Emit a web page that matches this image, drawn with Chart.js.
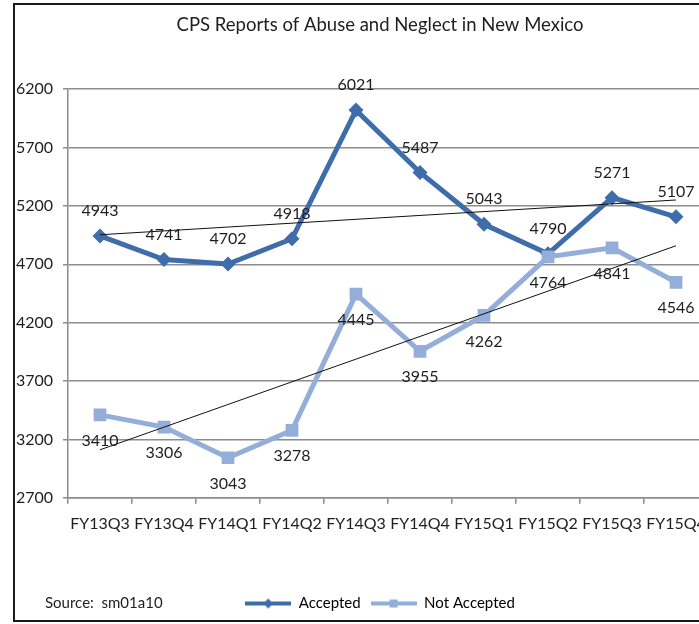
<!DOCTYPE html>
<html>
<head>
<meta charset="utf-8">
<title>CPS Reports of Abuse and Neglect in New Mexico</title>
<script src="https://cdn.jsdelivr.net/npm/chart.js@4.4.1/dist/chart.umd.min.js"></script>
<style>
  html, body { margin: 0; padding: 0; background: #fff; overflow: hidden; }
  #frame { position: absolute; left: 13px; top: 3px; width: 780px; height: 619px; border: 2px solid #1a1a1a; border-right: none; box-sizing: border-box; }
  #wrap { position: absolute; left: 16px; top: 5px; width: 728px; height: 616px; }
</style>
</head>
<body>
<div id="frame"></div>
<div id="wrap"><canvas id="chart-cps"></canvas></div>
<script>
const quarters = ["FY13Q3", "FY13Q4", "FY14Q1", "FY14Q2", "FY14Q3", "FY14Q4", "FY15Q1", "FY15Q2", "FY15Q3", "FY15Q4"];
const accepted = [4943, 4741, 4702, 4918, 6021, 5487, 5043, 4790, 5271, 5107];
const notAccepted = [3410, 3306, 3043, 3278, 4445, 3955, 4262, 4764, 4841, 4546];
// trend line end points
const acceptedTrend = [4953, null, null, null, null, null, null, null, null, 5251];
const notAcceptedTrend = [3111, null, null, null, null, null, null, null, null, 4859];
const yRange = { min: 2700, max: 6200, step: 500 };
const sourceNote = "Source:  sm01a10";

const DARK = "#3f6dab";
const LIGHT = "#93aed8";
const GRID = "#8c8c8c";
const INK = "#1e1e1e";
const FONT = "Lato";

function legendSample(color, shape) {
  const c = document.createElement("canvas");
  c.width = 46;
  c.height = 12;
  const ctx = c.getContext("2d");
  ctx.strokeStyle = color;
  ctx.lineWidth = 4;
  ctx.beginPath();
  ctx.moveTo(0, 6);
  ctx.lineTo(46, 6);
  ctx.stroke();
  ctx.fillStyle = color;
  if (shape === "diamond") {
    ctx.beginPath();
    ctx.moveTo(23, 1);
    ctx.lineTo(28, 6);
    ctx.lineTo(23, 11);
    ctx.lineTo(18, 6);
    ctx.closePath();
    ctx.fill();
  } else {
    ctx.fillRect(19, 2, 8, 8);
  }
  return c;
}

const valueLabels = {
  id: "valueLabels",
  afterDatasetsDraw(chart) {
    const { ctx } = chart;
    ctx.save();
    ctx.font = `16px ${FONT}`;
    ctx.fillStyle = INK;
    ctx.textAlign = "center";
    ctx.textBaseline = "middle";
    chart.data.datasets.forEach((ds, i) => {
      if (!ds.labelOffset) return;
      chart.getDatasetMeta(i).data.forEach((pt, j) => {
        if (ds.data[j] == null) return;
        ctx.fillText(String(ds.data[j]), pt.x, pt.y + ds.labelOffset);
      });
    });
    ctx.restore();
  }
};

const sourceText = {
  id: "sourceText",
  afterDraw(chart) {
    const lg = chart.legend;
    const box = lg.legendHitBoxes && lg.legendHitBoxes[0];
    const y = box ? box.top + box.height / 2 : lg.top + lg.height / 2;
    const { ctx } = chart;
    ctx.save();
    ctx.font = `15px ${FONT}`;
    ctx.fillStyle = INK;
    ctx.textAlign = "left";
    ctx.textBaseline = "middle";
    ctx.fillText(sourceNote, 29, y);
    ctx.restore();
  }
};

const tickFont = { family: FONT, size: 16 };

new Chart(document.getElementById("chart-cps"), {
  type: "line",
  data: {
    labels: quarters,
    datasets: [
      { label: "Accepted trend", data: acceptedTrend, borderColor: "#111", borderWidth: 1, pointRadius: 0, spanGaps: true, order: 0 },
      { label: "Not Accepted trend", data: notAcceptedTrend, borderColor: "#111", borderWidth: 1, pointRadius: 0, spanGaps: true, order: 1 },
      { label: "Not Accepted", data: notAccepted, borderColor: LIGHT, backgroundColor: LIGHT, borderWidth: 5, pointStyle: "rect", pointRadius: 9, pointBorderWidth: 0, tension: 0, labelOffset: 26, order: 2 },
      { label: "Accepted", data: accepted, borderColor: DARK, backgroundColor: DARK, borderWidth: 5, pointStyle: "rectRot", pointRadius: 7.5, pointBorderWidth: 0, tension: 0, labelOffset: -25, order: 3 }
    ]
  },
  options: {
    responsive: true,
    maintainAspectRatio: false,
    animation: false,
    layout: { padding: 0 },
    plugins: {
      title: {
        display: true,
        text: "CPS Reports of Abuse and Neglect in New Mexico",
        color: INK,
        font: { family: FONT, size: 18.5, weight: "normal" },
        padding: { top: 9, bottom: 53 }
      },
      legend: {
        position: "bottom",
        labels: {
          usePointStyle: true,
          pointStyleWidth: 46,
          padding: 10,
          color: INK,
          font: { family: FONT, size: 15 },
          generateLabels() {
            return [
              { text: "Accepted", pointStyle: legendSample(DARK, "diamond"), fillStyle: DARK, strokeStyle: DARK, lineWidth: 0, hidden: false, datasetIndex: 3 },
              { text: "Not Accepted", pointStyle: legendSample(LIGHT, "square"), fillStyle: LIGHT, strokeStyle: LIGHT, lineWidth: 0, hidden: false, datasetIndex: 2 }
            ];
          }
        }
      },
      tooltip: { enabled: false }
    },
    scales: {
      x: {
        offset: true,
        afterFit(scale) { scale.height += 43; },
        grid: { offset: true, drawOnChartArea: false, tickLength: 6, color: GRID, lineWidth: 1.5 },
        border: { color: GRID, width: 1.5 },
        ticks: { color: INK, font: tickFont, padding: 10, maxRotation: 0, autoSkip: false }
      },
      y: {
        min: yRange.min,
        max: yRange.max,
        afterFit(scale) { scale.width = 52; },
        grid: { color: GRID, lineWidth: 1.5, tickLength: 5 },
        border: { color: GRID, width: 1.5 },
        ticks: { stepSize: yRange.step, padding: 10, color: INK, font: tickFont, callback: (v) => String(v) }
      },
      // empty strip to the right of the plot (off screen), so title and legend centre like the original
      rightGap: {
        position: "right",
        afterFit(scale) { scale.width = 36; },
        grid: { display: false },
        border: { display: false },
        ticks: { display: false }
      }
    }
  },
  plugins: [valueLabels, sourceText]
});
</script>
</body>
</html>
